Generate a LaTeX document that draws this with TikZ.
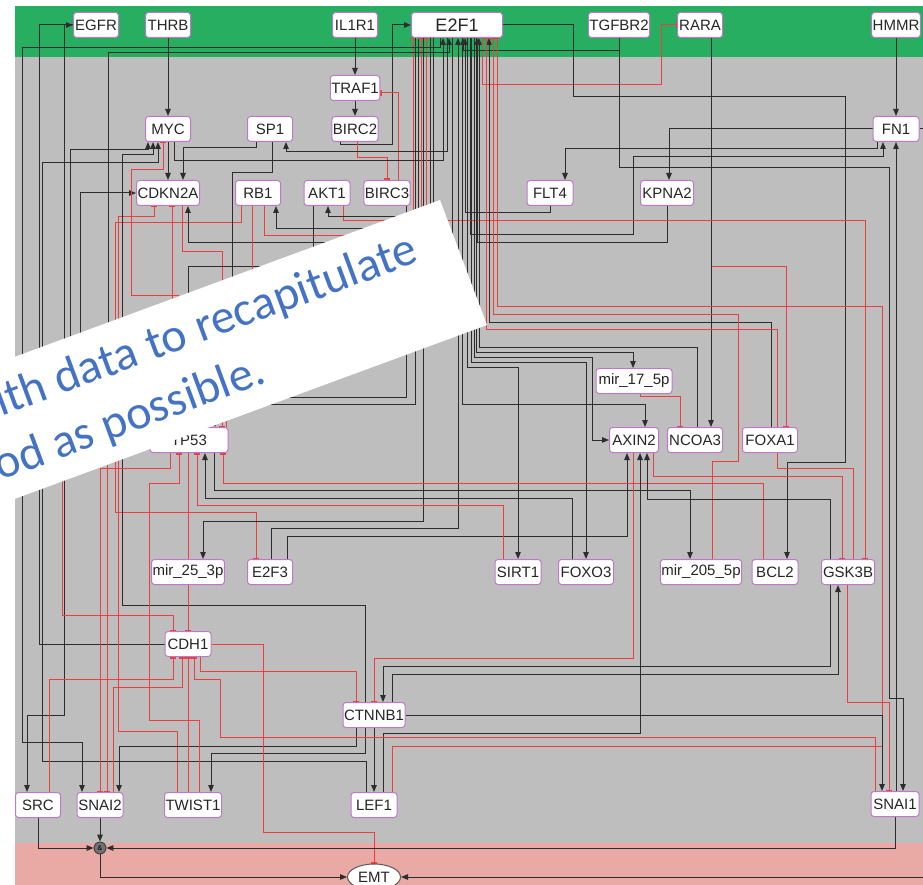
\documentclass[tikz,border=0pt]{standalone}
\usepackage{fontspec}
\setmainfont{Liberation Sans}
\newfontfamily\bannerfont{Carlito}
\usetikzlibrary{arrows.meta,shapes.geometric}
\pgfdeclarelayer{bg}
\pgfdeclarelayer{edgelayer}
\pgfdeclarelayer{top}
\pgfsetlayers{bg,edgelayer,main,top}
\definecolor{bandgreen}{RGB}{39,174,96}
\definecolor{bandgray}{RGB}{190,190,190}
\definecolor{bandpink}{RGB}{233,169,165}
\definecolor{nodeedge}{RGB}{190,120,200}
\definecolor{inhred}{RGB}{236,62,62}
\definecolor{actblack}{RGB}{45,45,45}
\definecolor{bannerblue}{RGB}{68,114,196}
\tikzset{
  gene/.style={draw=nodeedge, fill=white, rounded corners=3pt, line width=1pt,
    minimum height=25pt, inner xsep=1pt, inner ysep=0pt,
    font=\fontsize{15}{17}\selectfont, text=black!85},
  act/.style={draw=actblack, line width=1pt, -{Triangle[length=7pt,width=5.5pt]}},
  actboth/.style={draw=actblack, line width=1pt,
    {Triangle[length=7pt,width=5.5pt]}-{Triangle[length=7pt,width=5.5pt]}},
  inh/.style={draw=inhred, line width=1pt, -{Bar[width=6pt,line width=1.5pt]}},
  rlink/.style={draw=inhred, line width=1pt},
  link/.style={draw=actblack, line width=1pt},
  capword/.style={rotate=20.3, anchor=base west, inner sep=0pt, text=bannerblue,
    font=\bannerfont\fontsize{48}{48}\selectfont},
}
\begin{document}
\begin{tikzpicture}[x=1pt,y=-1pt]
\useasboundingbox (0,0) rectangle (923,885);

% compartments
\begin{pgfonlayer}{bg}
\fill[white] (0,0) rectangle (923,885);
\fill[bandgreen] (15,6) rectangle (923,57);
\fill[bandgray] (15,57) rectangle (923,843);
\fill[bandpink] (15,843) rectangle (923,885);
\end{pgfonlayer}

% genes
\node[gene,minimum width=45pt] (EGFR) at (96,25) {EGFR};
\node[gene,minimum width=45pt] (THRB) at (168,25) {THRB};
\node[gene,minimum width=45pt] (IL1R1) at (355,25) {IL1R1};
\node[gene,minimum width=91pt,font=\fontsize{18}{20}\selectfont] (E2F1) at (457,25) {E2F1};
\node[gene,minimum width=60pt] (TGFBR2) at (619,25) {TGFBR2};
\node[gene,minimum width=45pt] (RARA) at (700,25) {RARA};
\node[gene,minimum width=48pt] (HMMR) at (896,25) {HMMR};
\node[gene,minimum width=46pt] (TRAF1) at (355,88) {TRAF1};
\node[gene,minimum width=45pt] (MYC) at (168,129) {MYC};
\node[gene,minimum width=45pt] (SP1) at (270,129) {SP1};
\node[gene,minimum width=45pt] (BIRC2) at (355,129) {BIRC2};
\node[gene,minimum width=46pt] (FN1) at (896,129) {FN1};
\node[gene,minimum width=63pt] (CDKN2A) at (168,193) {CDKN2A};
\node[gene,minimum width=45pt] (RB1) at (258,193) {RB1};
\node[gene,minimum width=46pt] (AKT1) at (327,193) {AKT1};
\node[gene,minimum width=46pt] (BIRC3) at (387,193) {BIRC3};
\node[gene,minimum width=46pt] (FLT4) at (550,193) {FLT4};
\node[gene,minimum width=53pt] (KPNA2) at (667,193) {KPNA2};
\node[gene,minimum width=78pt] (TP53) at (189,440) {TP53};
\node[gene,minimum width=76pt] (mirA) at (634,381) {mir\_17\_5p};
\node[gene,minimum width=49pt] (AXIN2) at (634,440) {AXIN2};
\node[gene,minimum width=55pt] (NCOA3) at (695,440) {NCOA3};
\node[gene,minimum width=55pt] (FOXA1) at (770,440) {FOXA1};
\node[gene,minimum width=72pt] (mirB) at (188,572) {mir\_25\_3p};
\node[gene,minimum width=45pt] (E2F3) at (270,572) {E2F3};
\node[gene,minimum width=46pt] (SIRT1) at (518,572) {SIRT1};
\node[gene,minimum width=55pt] (FOXO3) at (586,572) {FOXO3};
\node[gene,minimum width=80pt] (mirC) at (701,572) {mir\_205\_5p};
\node[gene,minimum width=46pt] (BCL2) at (775,572) {BCL2};
\node[gene,minimum width=53pt] (GSK3B) at (848,572) {GSK3B};
\node[gene,minimum width=46pt] (CDH1) at (188,644) {CDH1};
\node[gene,minimum width=61pt] (CTNNB1) at (374,715) {CTNNB1};
\node[gene,minimum width=45pt] (SRC) at (38,805) {SRC};
\node[gene,minimum width=46pt] (SNAI2) at (100,805) {SNAI2};
\node[gene,minimum width=57pt] (TWIST1) at (193,805) {TWIST1};
\node[gene,minimum width=46pt] (LEF1) at (374,805) {LEF1};
\node[gene,minimum width=48pt] (SNAI1) at (895,804) {SNAI1};
\node[circle, fill=black!55, draw=black!80, line width=0.8pt, inner sep=0pt,
  minimum size=12pt, font=\fontsize{7}{7}\selectfont] (AND) at (100,848) {\&};
\node[ellipse, draw=black!65, fill=white, line width=1pt, inner sep=0pt,
  minimum width=53pt, minimum height=26pt, font=\fontsize{15}{17}\selectfont,
  text=black!85] (EMT) at (374,877) {EMT};
\coordinate (fnout) at (923,129);
\coordinate (emtin) at (923,877);

% interactions
\begin{pgfonlayer}{edgelayer}
\draw[act] (THRB.south) -- (MYC.north);
\draw[act] (IL1R1.south) -- (TRAF1.north);
\draw[act] (TRAF1.south) -- (BIRC2.north);
\draw[act] (HMMR.south) -- (FN1.north);
\draw[act] (BIRC2.south -| 340,0) -- (340,145) -- (392,145) -- (392,25) -- (E2F1.west);
\draw[inh] (BIRC2.south -| 357,0) -- (357,158) -- (387,158) -- (BIRC3.north);
\draw[inh] (BIRC3.north -| 398,0) -- (398,93) -- (TRAF1.east |- 0,93);
\draw[act] (CDH1.west) -- (39,644) -- (39,25) -- (EGFR.west);
\draw[act] (EGFR.west) -- (64,25) -- (64,715) -- (27,715) -- (SRC.north -| 27,0);
\draw[inh] (E2F1.south -| 482,0) -- (482,85) -- (661,85) -- (661,25) -- (RARA.west);
\draw[act] (E2F1.east) -- (573,25) -- (573,97) -- (845,97) -- (845,462) -- (787,462) -- (BCL2.north -| 787,0);
\draw[act] (FN1.west) -- (669,129) -- (KPNA2.north -| 669,0);
\draw[act] (FN1.south -| 877,0) -- (877,149) -- (565,149) -- (FLT4.north -| 565,0);
\draw[act] (E2F1.south -| 470,0) -- (470,235) -- (633,235) -- (633,157) -- (883,157) -- (FN1.south -| 883,0);
\draw[act] (TGFBR2.south) -- (619,51) -- (463,51) -- (E2F1.south -| 463,0);
\draw[act] (TGFBR2.south) -- (619,168) -- (889,168) -- (889,698) -- (903,698) -- (SNAI1.north -| 903,0);
\draw[act] (SNAI1.north -| 896,0) -- (FN1.south -| 896,0);
\draw[link] (FN1.east) -- (fnout);
\draw[inh] (RARA.south -| 711,0) -- (711,267) -- (786,267) -- (FOXA1.north -| 786,0);
\draw[act] (RARA.south -| 711,0) -- (NCOA3.north -| 711,0);
\draw[act] (FLT4.south) -- (550,213) -- (465,213) -- (E2F1.south -| 465,0);
\draw[act] (KPNA2.south) -- (667,243) -- (477,243) -- (E2F1.south -| 477,0);
\draw[inh] (AKT1.south -| 343,0) -- (343,221) -- (865,221) -- (GSK3B.north -| 865,0);
\draw[act] (E2F1.south -| 418,0) -- (418,217) -- (328,217) -- (AKT1.south -| 328,0);
\draw[act] (E2F1.south -| 430,0) -- (430,229) -- (276,229) -- (RB1.south -| 276,0);
\draw[inh] (RB1.south -| 264,0) -- (264,236) -- (413,236) -- (E2F1.south -| 413,0);
\draw[inh] (RB1.south -| 241,0) -- (241,223) -- (115,223) -- (115,512) -- (256,512) -- (E2F3.north -| 256,0);
\draw[inh] (TWIST1.north -| 177,0) -- (177,731) -- (118,731) -- (118,217) -- (154,217) -- (CDKN2A.south -| 154,0);
\draw[act] (MYC.south) -- (CDKN2A.north);
\draw[act] (SP1.south -| 256,0) -- (256,148) -- (183,148) -- (CDKN2A.north -| 183,0);
\draw[act] (MYC.south -| 174,0) -- (174,161) -- (443,161) -- (E2F1.south -| 443,0);
\draw[act] (LEF1.north -| 366,0) -- (366,761) -- (42,761) -- (42,163) -- (158,163) -- (MYC.south -| 158,0);
\draw[act] (E2F1.south -| 447,0) -- (447,152) -- (286,152) -- (SP1.south -| 286,0);
\draw[act] (TP53.west) -- (70,440) -- (70,150) -- (148,150) -- (MYC.south -| 148,0);
\draw[actboth] (MYC.south -| 153,0) -- (153,155) -- (122,155) -- (122,605) -- (365,605) -- (365,753) -- (211,753) -- (TWIST1.north -| 211,0);
\draw[act] (TP53.west) -- (80,440) -- (80,193) -- (CDKN2A.west);
\draw[act] (E2F1.south -| 452,0) -- (452,243) -- (188,243) -- (CDKN2A.south -| 188,0);
\draw[inh] (TP53.north -| 178,0) -- (178,295) -- (131,295) -- (131,170) -- (163,170) -- (MYC.south -| 163,0);
\draw[inh] (TP53.north -| 172,0) -- (CDKN2A.south -| 172,0);
\draw[inh] (CDKN2A.south -| 182,0) -- (182,252) -- (222,252) -- (TP53.north -| 222,0);
\draw[act] (E2F1.south -| 433,0) -- (433,267) -- (188,267) -- (TP53.north -| 188,0);
\draw[act] (SP1.south -| 272,0) -- (272,173) -- (232,173) -- (232,400) -- (200,400) -- (TP53.north -| 200,0);
\draw[act] (AKT1.south -| 313,0) -- (313,340) -- (210,340) -- (TP53.north -| 210,0);
\draw[rlink] (RB1.south -| 252,0) -- (252,410) -- (226,410) -- (TP53.north -| 226,0);
\draw[act] (BIRC3.south -| 406,0) -- (406,397) -- (205,397) -- (TP53.north -| 205,0);
\draw[act] (E2F1.south -| 415,0) -- (415,404) -- (215,404) -- (TP53.north -| 215,0);
\draw[inh] (TP53.north -| 195,0) -- (195,330) -- (421,330) -- (E2F1.south -| 421,0);
\draw[inh] (TP53.north -| 160,0) -- (160,345) -- (426,345) -- (E2F1.south -| 426,0);
\draw[act] (E2F1.south -| 440,0) -- (440,48) -- (22,48) -- (22,742) -- (82,742) -- (SNAI2.north -| 82,0);
\draw[act] (TP53.west) -- (108,440) -- (108,53) -- (449,53) -- (E2F1.south -| 449,0);
\draw[act] (E2F3.north -| 271,0) -- (271,528) -- (458,528) -- (E2F1.south -| 458,0);
\draw[act] (E2F1.south -| 423,0) -- (423,521) -- (203,521) -- (mirB.north -| 203,0);
\draw[act] (E2F3.north -| 287,0) -- (287,536) -- (627,536) -- (AXIN2.south -| 627,0);
\draw[act] (E2F1.south -| 467,0) -- (467,367) -- (518,367) -- (SIRT1.north -| 518,0);
\draw[act] (E2F1.south -| 471,0) -- (471,362) -- (586,362) -- (FOXO3.north -| 586,0);
\draw[act] (E2F1.south -| 474,0) -- (474,357) -- (592,357) -- (592,440) -- (AXIN2.west);
\draw[act] (E2F1.south -| 476,0) -- (476,352) -- (633,352) -- (mirA.north -| 633,0);
\draw[inh] (mirA.south -| 640,0) -- (640,396) -- (680,396) -- (NCOA3.north -| 680,0);
\draw[act] (E2F1.south -| 462,0) -- (462,404) -- (645,404) -- (AXIN2.north -| 645,0);
\draw[act] (NCOA3.north -| 697,0) -- (697,347) -- (479,347) -- (E2F1.south -| 479,0);
\draw[act] (FOXA1.north -| 771,0) -- (771,322) -- (489,322) -- (E2F1.south -| 489,0);
\draw[inh] (GSK3B.north -| 853,0) -- (853,468) -- (777,468) -- (777,329) -- (486,329) -- (E2F1.south -| 486,0);
\draw[inh] (mirC.north -| 712,0) -- (712,461) -- (738,461) -- (738,314) -- (493,314) -- (E2F1.south -| 493,0);
\draw[inh] (LEF1.north -| 392,0) -- (392,746) -- (882,746) -- (882,306) -- (497,306) -- (E2F1.south -| 497,0);
\draw[inh] (SIRT1.north -| 503,0) -- (503,505) -- (197,505) -- (TP53.south -| 197,0);
\draw[act] (FOXO3.north -| 572,0) -- (572,498) -- (205,498) -- (TP53.south -| 205,0);
\draw[act] (TP53.south -| 214,0) -- (214,490) -- (690,490) -- (mirC.north -| 690,0);
\draw[inh] (BCL2.north -| 763,0) -- (763,483) -- (223,483) -- (TP53.south -| 223,0);
\draw[act] (GSK3B.north -| 830,0) -- (830,499) -- (647,499) -- (AXIN2.south -| 647,0);
\draw[inh] (AXIN2.south -| 653,0) -- (653,476) -- (842,476) -- (GSK3B.north -| 842,0);
\draw[act] (LEF1.north -| 383,0) -- (383,733) -- (640,733) -- (AXIN2.south -| 640,0);
\draw[inh] (AXIN2.south -| 633,0) -- (633,658) -- (374,658) -- (CTNNB1.north);
\draw[act] (GSK3B.south -| 830,0) -- (830,666) -- (383,666) -- (CTNNB1.north -| 383,0);
\draw[act] (CTNNB1.north -| 392,0) -- (392,674) -- (838,674) -- (GSK3B.south -| 838,0);
\draw[act] (CTNNB1.east) -- (882,715) -- (SNAI1.north -| 882,0);
\draw[act] (CTNNB1.south) -- (LEF1.north);
\draw[act] (CTNNB1.south -| 356,0) -- (356,746) -- (119,746) -- (SNAI2.north -| 119,0);
\draw[inh] (CDH1.south -| 200,0) -- (200,671) -- (356,671) -- (CTNNB1.north -| 356,0);
\draw[inh] (SNAI1.north -| 875,0) -- (875,737) -- (220,737) -- (220,679) -- (194,679) -- (CDH1.south -| 194,0);
\draw[inh] (SRC.north -| 49,0) -- (49,679) -- (173,679) -- (CDH1.south -| 173,0);
\draw[inh] (SNAI2.north -| 113,0) -- (113,687) -- (182,687) -- (CDH1.south -| 182,0);
\draw[inh] (TWIST1.north -| 188,0) -- (CDH1.south -| 188,0);
\draw[inh] (TP53.south -| 188,0) -- (CDH1.north -| 188,0);
\draw[inh] (TWIST1.north -| 199,0) -- (199,720) -- (149,720) -- (149,483) -- (179,483) -- (TP53.south -| 179,0);
\draw[inh] (TP53.west) -- (62,440) -- (62,615) -- (173,615) -- (CDH1.north -| 173,0);
\draw[inh] (TP53.south -| 170,0) -- (170,468) -- (100,468) -- (SNAI2.north -| 100,0);
\draw[inh] (TP53.west) -- (107,440) -- (SNAI2.north -| 107,0);
\draw[inh] (GSK3B.south -| 847,0) -- (847,702) -- (889,702) -- (SNAI1.north -| 889,0);
\draw[inh] (CDH1.east) -- (263,644) -- (263,832) -- (374,832) -- (EMT.north);
\draw[act] (SRC.south) -- (38,848) -- (AND.west);
\draw[act] (SNAI2.south) -- (AND.north);
\draw[act] (SNAI1.south) -- (895,848) -- (AND.east);
\draw[act] (AND.south) -- (100,877) -- (EMT.west);
\draw[act] (emtin) -- (EMT.east);
\end{pgfonlayer}

% slanted caption strip, set word by word along its baselines
\begin{pgfonlayer}{top}
\begin{scope}
\clip (0,0) rectangle (923,885);
\fill[white] (440,200) -- (487,325) -- (-10,508) -- (-10,366) -- cycle;
\node[capword] (wA) at (0.9,416.7) {ith};
\node[capword] (wB) at (60.1,394.8) {data};
\node[capword] (wC) at (152.1,360.8) {to};
\node[capword] (wD) at (201.1,342.6) {recapitulate};
\node[capword] (wE) at (0.5,480.9) {od};
\node[capword] (wF) at (58.0,459.6) {as};
\node[capword] (wG) at (107.3,441.4) {possible.};
\end{scope}
\end{pgfonlayer}
\end{tikzpicture}
\end{document}
